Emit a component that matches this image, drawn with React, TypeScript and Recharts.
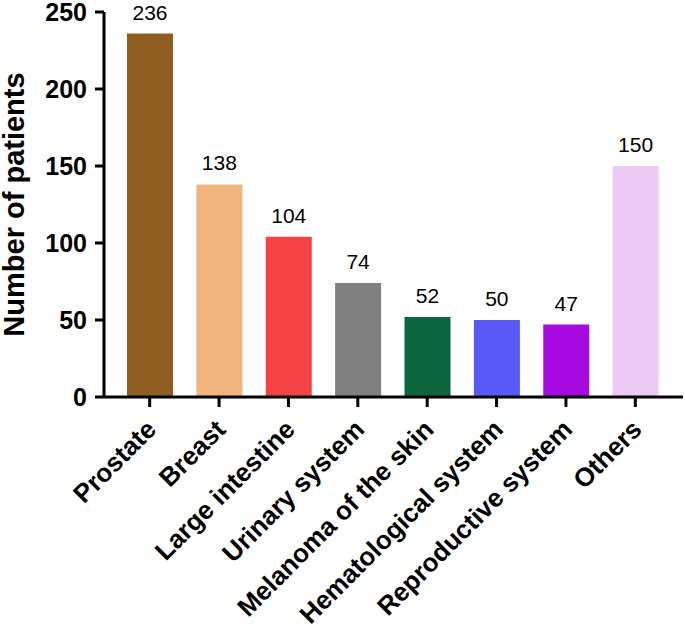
import { BarChart, Bar, XAxis, YAxis, Cell, LabelList } from 'recharts'

const categories = [
  'Prostate',
  'Breast',
  'Large intestine',
  'Urinary system',
  'Melanoma of the skin',
  'Hematological system',
  'Reproductive system',
  'Others',
]
const patients = [236, 138, 104, 74, 52, 50, 47, 150]
const barColors = ['#8F5E20', '#F0B57C', '#F54343', '#808080', '#0B6640', '#5A5AF8', '#A70AE0', '#EDCBF5']
const yTicks = [0, 50, 100, 150, 200, 250]

const data = categories.map((name, i) => ({ name, value: patients[i] }))

const FONT = '"Liberation Sans", Arial, sans-serif'

// etiqueta inclinada del eje X
function SlantTick({ x, y, payload }: { x?: number; y?: number; payload?: { value: string } }) {
  const tx = (x ?? 0) + 8
  const ty = (y ?? 0) + 22
  return (
    <text
      x={tx}
      y={ty}
      transform={`rotate(-45, ${tx}, ${ty})`}
      textAnchor="end"
      fontFamily={FONT}
      fontWeight="bold"
      fontSize={26}
      fill="#000"
    >
      {payload?.value}
    </text>
  )
}

export default function App() {
  return (
    <div style={{ position: 'absolute', left: 0, top: 0, background: '#fff' }}>
      <BarChart
        width={685}
        height={630}
        data={data}
        margin={{ top: 12, right: 2, left: 0, bottom: 13 }}
        barSize={46}
      >
        <XAxis
          dataKey="name"
          interval={0}
          height={220}
          padding={{ left: 11, right: 13 }}
          axisLine={{ stroke: '#000', strokeWidth: 3 }}
          tickLine={{ stroke: '#000', strokeWidth: 3 }}
          tickSize={10}
          tick={<SlantTick />}
        />
        <YAxis
          width={104}
          domain={[0, 250]}
          ticks={yTicks}
          interval={0}
          axisLine={{ stroke: '#000', strokeWidth: 3 }}
          tickLine={{ stroke: '#000', strokeWidth: 3 }}
          tickSize={9}
          tickMargin={8}
          tick={{ fill: '#000', fontSize: 25, fontWeight: 'bold', fontFamily: FONT }}
          label={{
            value: 'Number of patients',
            angle: -90,
            position: 'insideLeft',
            offset: 14,
            style: { textAnchor: 'middle', fill: '#000', fontSize: 29, fontWeight: 'bold', fontFamily: FONT },
          }}
        />
        <Bar dataKey="value" isAnimationActive={false}>
          {data.map((d, i) => (
            <Cell key={d.name} fill={barColors[i]} />
          ))}
          <LabelList
            dataKey="value"
            position="top"
            offset={14}
            fill="#000"
            fontSize={21}
            fontFamily={FONT}
          />
        </Bar>
      </BarChart>
    </div>
  )
}
